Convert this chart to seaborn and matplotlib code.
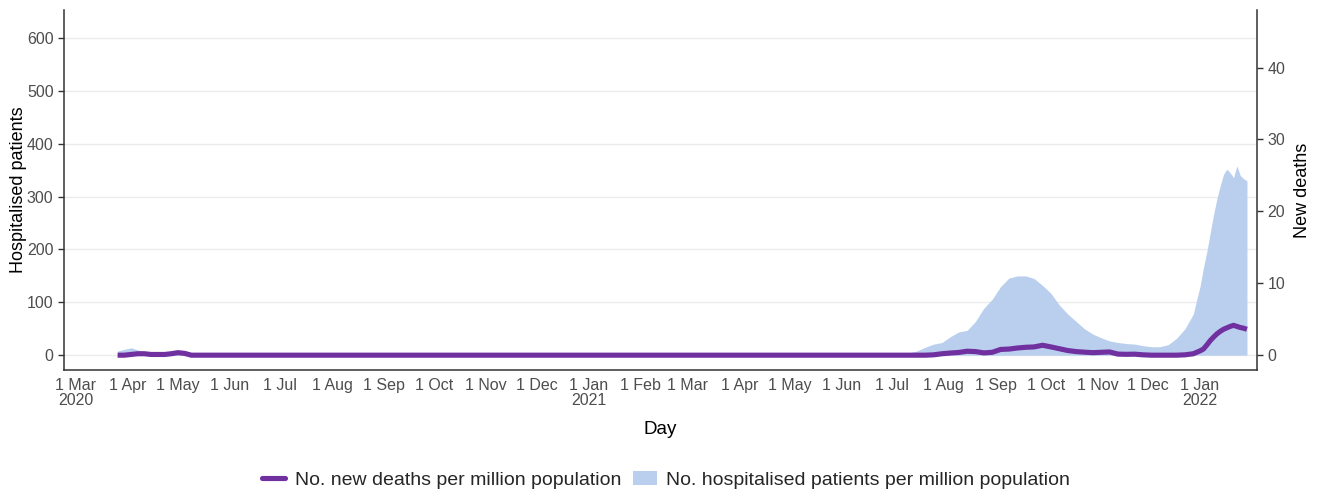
import numpy as np
import pandas as pd
import matplotlib
matplotlib.use("Agg")
import matplotlib.pyplot as plt
from matplotlib.lines import Line2D
from matplotlib.patches import Patch
import seaborn as sns

# --- data: per-million figures --------------------------------------------
# spring 2020, every 4 days from 26 Mar
dates_spring20 = pd.date_range("2020-03-26", periods=13, freq="4D")
hosp_spring20 = [8, 11, 14, 10, 7, 5, 4, 3, 3, 3, 2, 0, 0]
deaths_spring20 = [0, 0, 0.1, 0.2, 0.2, 0.1, 0.1, 0.1, 0.2, 0.35, 0.25, 0, 0]

# quiet period, monthly
dates_quiet = pd.date_range("2020-06-01", "2021-06-01", freq="MS")
hosp_quiet = [0] * 13
deaths_quiet = [0] * 13

# delta wave, every 5 days from 26 Jun 2021
dates_delta = pd.date_range("2021-06-26", periods=38, freq="5D")
hosp_delta = [0, 0, 2, 4, 8, 15, 21, 24, 35, 44, 47, 64, 89, 106, 130, 146,
              150, 150, 145, 132, 117, 95, 78, 64, 50, 40, 33, 27, 24, 22,
              21, 18, 16, 16, 20, 32, 50, 78]
deaths_delta = [0, 0, 0, 0, 0, 0, 0.05, 0.2, 0.3, 0.38, 0.55, 0.5, 0.32, 0.4,
                0.8, 0.85, 1.0, 1.1, 1.15, 1.38, 1.15, 0.9, 0.65, 0.5, 0.42,
                0.35, 0.4, 0.45, 0.15, 0.12, 0.14, 0.05, 0, 0, 0, 0, 0.05, 0.2]

# omicron wave, every 2 days from 30 Dec 2021
dates_omicron = pd.date_range("2021-12-30", periods=16, freq="2D")
hosp_omicron = [105, 130, 165, 195, 230, 265, 295, 320, 342, 352, 345, 336,
                358, 340, 334, 330]
deaths_omicron = [0.4, 0.6, 0.85, 1.4, 2.0, 2.5, 2.95, 3.3, 3.6, 3.8, 4.0,
                  4.15, 4.0, 3.85, 3.75, 3.6]

df = pd.DataFrame({
    "date": list(dates_spring20) + list(dates_quiet) + list(dates_delta) + list(dates_omicron),
    "hospitalised": hosp_spring20 + hosp_quiet + hosp_delta + hosp_omicron,
    "deaths": deaths_spring20 + deaths_quiet + deaths_delta + deaths_omicron,
})

# --- styling ---------------------------------------------------------------
sns.set_theme(style="white")
plt.rcParams["font.family"] = ["Liberation Sans", "DejaVu Sans"]

area_color = "#BACFED"
line_color = "#7030A0"
tick_color = "#4D4D4D"
spine_color = "#333333"

fig = plt.figure(figsize=(13.19, 4.93), dpi=100)
ax = fig.add_axes([0.0485, 0.2495, 0.9045, 0.7302])
ax2 = ax.twinx()

# hospitalised patients as a filled area (left axis)
ax.fill_between(df["date"], 0, df["hospitalised"], color=area_color, linewidth=0)
ax.set_ylim(-28, 653)
ax.set_yticks(range(0, 700, 100))
ax.yaxis.grid(True, color="#EBEBEB", linewidth=1.0)
ax.set_axisbelow(True)

# new deaths as a thick line (right axis)
sns.lineplot(data=df, x="date", y="deaths", ax=ax2, color=line_color,
             linewidth=3.7, solid_capstyle="butt")
ax2.set_ylim(-2.06, 48.0)
ax2.set_yticks(range(0, 50, 10))

# x axis: first of every month
ax.set_xlim(pd.Timestamp("2020-02-23"), pd.Timestamp("2022-02-04"))
ticks = pd.date_range("2020-03-01", "2022-01-01", freq="MS")
labels = []
for t in ticks:
    lab = f"1 {t.strftime('%b')}"
    if t.month == 1 or t == ticks[0]:
        lab += f"\n{t.year}"
    labels.append(lab)
ax.set_xticks(ticks)
ax.set_xticklabels(labels, linespacing=1.0)

for a in (ax, ax2):
    a.tick_params(axis="both", which="major", length=4, width=1,
                  color=spine_color, labelcolor=tick_color, labelsize=11.5,
                  direction="out")
    a.spines["top"].set_visible(False)
    for s in ("left", "right", "bottom"):
        a.spines[s].set_color(spine_color)
        a.spines[s].set_linewidth(1.1)
ax.spines["right"].set_visible(False)
ax2.spines["left"].set_visible(False)
ax2.spines["bottom"].set_visible(False)
ax.tick_params(axis="x", pad=2)

ax.set_xlabel("Day", fontsize=13.5, color="black", labelpad=9)
ax.set_ylabel("Hospitalised patients", fontsize=13, color="black", labelpad=0)
ax2.set_ylabel("New deaths", fontsize=13, color="black", labelpad=6)

handles = [
    Line2D([0], [0], color=line_color, linewidth=3.7),
    Patch(facecolor=area_color, edgecolor="none"),
]
fig.legend(handles,
           ["No. new deaths per million population",
            "No. hospitalised patients per million population"],
           loc="center", bbox_to_anchor=(0.505, 0.026), ncol=2, frameon=False,
           fontsize=14, handlelength=1.2, handletextpad=0.5, columnspacing=0.6)

fig.savefig("out.png", dpi=100, facecolor="white")
